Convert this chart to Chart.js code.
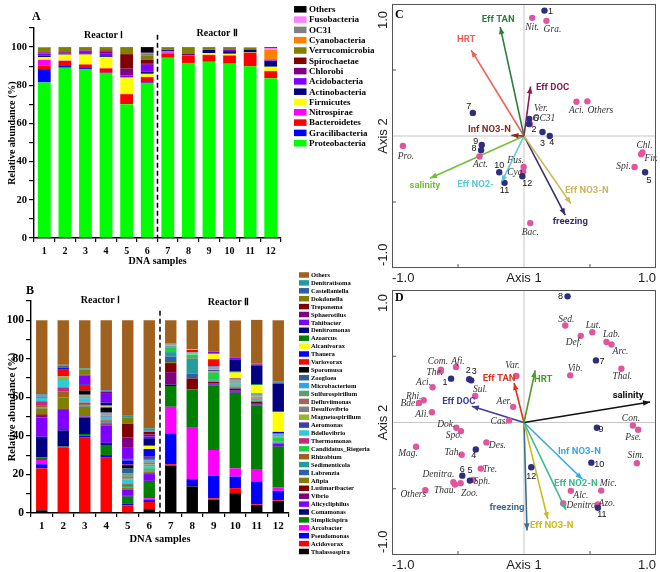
<!DOCTYPE html>
<html>
<head>
<meta charset="utf-8">
<script src="https://cdn.jsdelivr.net/npm/chart.js@4.4.0/dist/chart.umd.min.js"></script>
<style>
  html, body { margin: 0; padding: 0; background: #fff; }
  #wrap { position: relative; width: 660px; height: 572px; overflow: hidden; }
  canvas { position: absolute; }
</style>
</head>
<body>
<div id="wrap">
  <canvas id="chartA" width="392" height="272" style="left:0;top:0"></canvas>
  <canvas id="chartB" width="392" height="300" style="left:0;top:272px"></canvas>
  <canvas id="chartC" width="320" height="286" style="left:340px;top:0"></canvas>
  <canvas id="chartD" width="320" height="286" style="left:340px;top:286px"></canvas>
</div>
<script>
const serif = "'Liberation Serif','Times New Roman',serif";
const sans = "'Liberation Sans',Arial,sans-serif";
const narrow = "Roboto,'Liberation Sans',sans-serif";

// ---------- A: phylum level (bottom of stack first) ----------
const samples = ['1', '2', '3', '4', '5', '6', '7', '8', '9', '10', '11', '12'];
const phyla = ['Proteobacteria', 'Gracilibacteria', 'Bacteroidetes', 'Nitrospirae', 'Firmicutes',
  'Actinobacteria', 'Acidobacteria', 'Chlorobi', 'Spirochaetae', 'Verrucomicrobia',
  'Cyanobacteria', 'OC31', 'Fusobacteria', 'Others'];
const phylumColors = ['#00ff00', '#0000ff', '#ff0000', '#ff00ff', '#ffff00', '#000080', '#8000ff',
  '#800080', '#800000', '#808000', '#ff8000', '#808080', '#ff80ff', '#000000'];

const phylumS1 = [81.5, 7.0, 1.8, 3.0, 1.4, 0.8, 1.2, 0.5, 0.3, 2.3, 0, 0.1, 0, 0.1];
const phylumS2 = [89.2, 0.9, 2.6, 0.2, 3.1, 0.2, 0.6, 0.5, 0.1, 2.6, 0, 0, 0, 0];
const phylumS3 = [88.3, 0.7, 1.9, 0, 5.2, 0.4, 1.0, 0.6, 0.2, 1.7, 0, 0, 0, 0];
const phylumS4 = [86.4, 0.2, 2.2, 0.2, 5.7, 0.5, 1.3, 1.3, 0.5, 1.7, 0, 0, 0, 0];
const phylumS5 = [70.1, 0, 5.2, 0.2, 8.5, 0.2, 0.9, 3.6, 7.6, 3.7, 0, 0, 0, 0];
const phylumS6 = [81.2, 0.3, 2.8, 0, 1.7, 1.2, 3.5, 0.9, 1.7, 2.1, 0, 1.4, 0.2, 3.0];
const phylumS7 = [94.4, 0, 2.1, 0.8, 0.3, 0.8, 0.3, 0.2, 0, 0.9, 0, 0, 0, 0.2];
const phylumS8 = [91.7, 0, 4.0, 0, 0.1, 0, 0, 0.8, 0.2, 3.2, 0, 0, 0, 0];
const phylumS9 = [92.3, 0, 3.6, 0, 0.9, 1.7, 0.2, 0, 0, 1.3, 0, 0, 0, 0];
const phylumS10 = [91.3, 0, 4.3, 0, 0.9, 1.4, 0.9, 0, 0, 1.2, 0, 0, 0, 0];
const phylumS11 = [89.9, 0, 7.1, 0, 0.2, 1.4, 0.3, 0, 0, 0.8, 0.3, 0, 0, 0];
const phylumS12 = [83.7, 0, 3.7, 0, 2.3, 3.0, 0.3, 0.2, 0.2, 0.2, 5.0, 0, 1.0, 0.4];

// ---------- B: genus level (bottom of stack first) ----------
const genera = ['Thalassospira', 'Acidovorax', 'Pseudomonas', 'Arcobacter', 'Simplicispira',
  'Comamonas', 'Alicycliphilus', 'Vibrio', 'Lutimaribacter', 'Afipia', 'Labrenzia',
  'Sedimenticola', 'Rhizobium', 'Candidatus_Riegeria', 'Thermomonas', 'Bdellovibrio',
  'Aeromonas', 'Magnetospirillum', 'Desulfovibrio', 'Defluviimonas', 'Sulfurospirillum',
  'Microbacterium', 'Zoogloea', 'Sporomusa', 'Variovorax', 'Thauera', 'Alcanivorax',
  'Azoarcus', 'Denitromonas', 'Tahibacter', 'Sphaerotilus', 'Treponema', 'Dokdonella',
  'Castellaniella', 'Denitratisoma', 'Others'];
const genusColors = ['#000000', '#ff0000', '#0000ff', '#ff00ff', '#008000', '#000080', '#8000ff',
  '#800080', '#800000', '#808000', '#2e5fa8', '#249c9c', '#a0601e', '#20d040', '#c8287e',
  '#2ecbd8', '#4040a0', '#9ab52a', '#808080', '#a86060', '#5e9e6e', '#2ea7de', '#2e5f8f',
  '#000000', '#ff0000', '#0000ff', '#ffff00', '#008000', '#000080', '#8000ff', '#800080',
  '#800000', '#808000', '#2e5fa8', '#249c9c', '#a0601e'];

const genusS1 = [1.4, 21.8, 2.1, 2.2, 1.4, 10.7, 10.0, 0.8, 0.8, 3.0, 0.3, 0.3, 1.2, 0, 2.0, 1.8, 0.5, 0, 0.3, 0, 0, 0.3, 0.3, 0, 0, 0, 0, 0, 0, 0, 0, 0, 0, 0.2, 0.3, 38.3];
const genusS2 = [0, 34.1, 0.2, 0, 0.2, 8.4, 11.0, 0, 0, 6.0, 0.3, 0, 3.0, 0, 2.0, 4.0, 0.3, 1.2, 0.3, 0, 0, 0, 0, 0, 3.7, 0.5, 0, 0.3, 0.5, 0, 0, 0, 0.3, 0.3, 0.3, 23.1];
const genusS3 = [0, 39.1, 1.0, 0, 0.9, 8.6, 0.5, 0, 0, 5.0, 0.3, 0.3, 0.8, 0, 0.8, 2.2, 0.3, 0.5, 0.3, 0.2, 0.2, 0.2, 0.2, 2.2, 2.8, 0.2, 0, 0, 0.3, 4.5, 0.3, 0, 2.8, 0.3, 0.3, 24.9];
const genusS4 = [0.5, 28.2, 1.4, 0, 4.8, 1.5, 9.0, 0.5, 0.3, 0.5, 0.3, 0.3, 0.8, 0, 0.3, 1.5, 0.3, 0.3, 0.5, 0.3, 0.2, 0.3, 0.5, 2.3, 0.3, 0.2, 0.5, 0.2, 1.5, 4.5, 1.2, 0, 0.3, 0.3, 0.2, 36.2];
const genusS5 = [0, 4.0, 1.0, 0, 3.5, 0.5, 3.0, 0.2, 0.2, 0.8, 0.3, 0.5, 1.0, 0.2, 0.3, 2.0, 0.3, 0.3, 1.0, 0.3, 0.8, 0.3, 2.8, 1.5, 0.3, 2.2, 0, 0.5, 0.3, 5.7, 5.5, 7.0, 3.0, 0.3, 1.2, 49.2];
const genusS6 = [2.0, 3.7, 1.0, 1.0, 8.5, 0.5, 3.5, 0.3, 0.3, 0.8, 0.3, 0.3, 0.5, 0.5, 0.3, 0.8, 0.3, 0.5, 1.2, 0.3, 0.5, 0.5, 1.0, 0.3, 0.3, 4.0, 1.5, 0.3, 3.8, 1.0, 1.0, 1.3, 0.3, 0.3, 1.2, 56.1];
const genusS7 = [24.6, 0.7, 16.0, 13.8, 10.8, 0.7, 0, 6.5, 4.7, 0.5, 2.9, 2.3, 0.4, 1.8, 0.3, 0.3, 0.3, 0.3, 0.2, 0.2, 0.3, 0.2, 0.2, 0, 0, 0, 0, 0, 0, 0, 0, 0, 0, 0, 0, 12.0];
const genusS8 = [13.8, 0, 3.8, 26.6, 19.8, 0, 0, 0.3, 5.5, 0, 2.6, 7.7, 0.3, 1.7, 0, 0.2, 0, 0.5, 0.5, 0, 0, 0.2, 0, 0, 1.2, 0, 0.3, 0, 0, 0, 0, 0, 0, 0, 0, 15.0];
const genusS9 = [6.9, 0.7, 11.8, 13.3, 33.6, 0.3, 0.3, 0.3, 0.8, 0.3, 0.3, 0.3, 0.2, 3.8, 0.3, 0.5, 0.5, 0.3, 0.5, 0.3, 0.3, 0.3, 0.3, 0, 3.3, 0.3, 2.8, 0, 0.3, 0.8, 0, 0, 0, 0, 0, 16.3];
const genusS10 = [10.3, 2.6, 6.0, 4.3, 39.1, 0.3, 0.3, 0.8, 0.8, 0, 0.5, 0.5, 0.2, 0.5, 0.3, 0.8, 0.3, 0.3, 0.3, 0.2, 0.3, 0.5, 0.3, 0, 0.2, 0.2, 3.0, 0.5, 6.3, 1.0, 0, 0, 0, 0, 0, 19.2];
const genusS11 = [4.1, 0.4, 11.9, 6.0, 33.5, 0.3, 0.3, 0.5, 0.7, 0, 0.3, 0.3, 0, 0.8, 0.3, 0.5, 0.3, 0.3, 0.3, 0, 0.3, 0.3, 0.3, 0, 0.3, 0, 4.3, 0.5, 9.5, 0.6, 0.3, 0, 0, 0.3, 0, 22.7];
const genusS12 = [6.2, 0.4, 4.9, 1.9, 21.0, 0.3, 1.4, 0, 0, 0, 0.3, 0.3, 0.3, 2.2, 0.3, 0.3, 0.3, 0, 0.3, 0, 0.3, 0.3, 0.3, 0, 0, 0.8, 10.2, 0.3, 14.4, 0, 0, 0, 0, 0.8, 0.3, 31.9];

// ---------- C: ordination, phylum level ----------
const cArrowNames = ['Eff TAN', 'HRT', 'Eff DOC', 'Inf NO3-N', 'salinity', 'Eff NO2-', 'Eff NO3-N', 'freezing'];
const cArrowX = [-0.18, -0.40, 0.05, -0.095, -0.7125, -0.17, 0.355, 0.3125];
const cArrowY = [0.825, 0.65, 0.375, 0.005, -0.32, -0.35, -0.5125, -0.60];
const cSampleNames = ['1', '2', '3', '4', '5', '6', '7', '8', '9', '10', '11', '12'];
const cSampleX = [0.155, 0.0375, 0.14, 0.195, 0.9175, 0.04, -0.3875, -0.325, -0.32, -0.1875, -0.1475, -0.0125];
const cSampleY = [0.95, 0.09, 0.03, 0.0, -0.275, 0.13, 0.175, -0.1075, -0.0675, -0.275, -0.355, -0.305];
const cSpeciesNames = ['Nit.', 'Gra.', 'Aci.', 'Others', 'Ver.', 'OC31', 'Pro.', 'Act.', 'Fus.', 'Cya.', 'Bac.', 'Chl.', 'Fir.', 'Spi.'];
const cSpeciesX = [0.0625, 0.17, 0.3975, 0.48, 0.0375, 0.045, -0.9175, -0.3375, -0.0025, -0.0075, 0.0475, 0.8975, 0.8875, 0.8375];
const cSpeciesY = [0.895, 0.8725, 0.26, 0.2625, 0.105, 0.09, -0.075, -0.155, -0.235, -0.27, -0.66, -0.125, -0.1375, -0.235];

// ---------- D: ordination, genus level ----------
const dArrowNames = ['HRT', 'Eff TAN', 'Eff DOC', 'salinity', 'Inf NO3-N', 'Eff NO2-N', 'Eff NO3-N', 'freezing'];
const dArrowX = [0.085, -0.075, -0.395, 0.955, 0.4425, 0.3175, 0.18, 0.0225];
const dArrowY = [0.393, 0.298, 0.123, 0.155, -0.4286, -0.659, -0.729, -0.8145];
const dSampleNames = ['1', '2', '3', '4', '5', '6', '7', '8', '9', '10', '11', '12'];
const dSampleX = [-0.5525, -0.415, -0.40, -0.365, -0.41, -0.4675, 0.545, 0.33, 0.5525, 0.51, 0.56, 0.055];
const dSampleY = [0.331, 0.326, 0.318, -0.203, -0.4386, -0.401, 0.4687, 0.952, -0.040, -0.303, -0.644, -0.338];
const dSpeciesNames = ['Sed.', 'Lut.', 'Def.', 'Lab.', 'Arc.', 'Thal.', 'Vib.', 'Com.', 'The.', 'Afi.', 'Var.',
  'Aci.', 'Sul.', 'Rhi.', 'Bde.', 'Ali.', 'Aer.', 'Cas.', 'Dok.', 'Spo.', 'Des.', 'Mag.', 'Tah.', 'Tre.',
  'Sph.', 'Denitra.', 'Thau.', 'Zoo.', 'Others', 'Con.', 'Pse.', 'Sim.', 'Mic.', 'Alc.', 'Denitro.', 'Azo.'];
const dSpeciesX = [0.3125, 0.5175, 0.43, 0.625, 0.6625, 0.7375, 0.35, -0.63, -0.63, -0.515, -0.0575,
  -0.6925, -0.37, -0.76, -0.795, -0.6975, -0.0825, -0.1125, -0.5125, -0.4775, -0.285, -0.8175, -0.4725, -0.3275,
  -0.385, -0.535, -0.5225, -0.48, -0.7475, 0.825, 0.865, 0.855, 0.585, 0.355, 0.2975, 0.56];
const dSpeciesY = [0.732, 0.682, 0.654, 0.607, 0.589, 0.406, 0.356, 0.398, 0.388, 0.4185, 0.351,
  0.266, 0.2005, 0.168, 0.148, 0.078, 0.118, 0.015, -0.04, -0.065, -0.15, -0.183, -0.243, -0.348,
  -0.4336, -0.451, -0.4687, -0.4586, -0.511, -0.0226, -0.0551, -0.308, -0.514, -0.516, -0.6115, -0.619];

// styles and label placement (pixel offsets from the mark)
const cArrowColors = ['#2e7d3e', '#f06058', '#8c1d50', '#8b2b1f', '#76be3a', '#5cc8d2', '#cbb85a', '#3a2c6c'];
const dArrowColors = ['#4e9a2e', '#e0321f', '#3b3f99', '#111111', '#3aa8e0', '#3dba8c', '#c9bd1f', '#3d6e8c'];
const cArrowOff = [[-2, -7], [-5, -11], [22, 1], [-22, -6], [-5, 7], [-26, 2], [16, -13], [5, 6]];
const dArrowOff = [[8, 9], [-15, -4], [-13, -5], [-22, -6], [-3, -28], [10, -26], [4, 7], [-20, -23]];
const cSampleOff = [[6, 1], [5, 5], [0, 11], [2, 7], [4, 8], [7, 0], [-4, -6], [-7, -2], [-6, -3], [0, -7], [0, 8], [5, 7]];
const dSampleOff = [[-6, 4], [-1, -9], [3, -9], [-2, 6], [0, -10], [0, -6], [6, 1], [-7, 0], [4, 2], [8, 2], [4, 7], [0, 9]];
const cSpeciesOff = [[0, 10], [6, 9], [0, 9], [13, 9], [12, -14], [14, -6], [3, 11], [1, 8], [-8, -7], [-7, 1], [0, 9], [2, -7], [10, 4], [-11, -1]];
const dSpeciesOff = [[1, -6], [1, -7], [-7, 7], [5, -8], [9, 7], [1, 8], [5, -7], [-3, -8], [-6, 1], [2, -6], [-4, -10],
  [-9, -5], [5, -6], [-10, -4], [-10, 1], [-10, 2], [-9, -5], [-10, 1], [-10, -3], [-7, 4], [11, 3], [-8, 7], [-9, -2], [9, 1],
  [9, 2], [-15, -8], [-10, 6], [9, 10], [-12, 4], [-2, -7], [-5, 8], [-1, -8], [7, -7], [10, 5], [19, 2], [9, -1]];

// ---------- bar chart decorations ----------
const barDecor = {
  id: 'barDecor',
  afterDatasetsDraw(chart, args, o) {
    const { ctx, scales: { x, y } } = chart;
    ctx.save();
    // dashed line between the two reactors
    const xs = x.getPixelForValue(5.5);
    ctx.strokeStyle = '#000';
    ctx.lineWidth = 1.5;
    ctx.setLineDash([5, 3]);
    ctx.beginPath();
    ctx.moveTo(xs, y.getPixelForValue(o.dashTop));
    ctx.lineTo(xs, y.getPixelForValue(0));
    ctx.stroke();
    ctx.setLineDash([]);

    ctx.fillStyle = '#000';
    ctx.textBaseline = 'middle';
    ctx.textAlign = 'center';
    ctx.font = `bold 10px ${serif}`;
    ctx.fillText('Reactor \u2160', x.getPixelForValue(2.5) + o.r1[0], o.r1[1]);
    ctx.fillText('Reactor \u2161', x.getPixelForValue(8.5) + o.r2[0], o.r2[1]);
    ctx.textAlign = 'left';
    ctx.font = `bold 12px ${serif}`;
    ctx.fillText(o.letter, o.letterAt[0], o.letterAt[1]);

    // legend, top of stack first
    const ds = chart.data.datasets;
    const lg = o.legend;
    ctx.font = `bold ${lg.size}px ${serif}`;
    for (let k = 0; k < ds.length; k++) {
      const d = ds[ds.length - 1 - k];
      const cy = lg.y + k * lg.row;
      ctx.fillStyle = d.backgroundColor;
      ctx.fillRect(lg.x, cy - lg.boxH / 2, lg.boxW, lg.boxH);
      ctx.fillStyle = '#000';
      ctx.fillText(d.label, lg.textX, cy + 0.5);
    }
    ctx.restore();
  }
};

function barChart(id, taxa, colors, bySample, o) {
  return new Chart(document.getElementById(id), {
    type: 'bar',
    data: {
      labels: samples,
      datasets: taxa.map((name, i) => ({
        label: name,
        data: bySample.map(s => s[i]),
        backgroundColor: colors[i],
        borderWidth: 0,
        barPercentage: o.barPct,
        categoryPercentage: 1
      }))
    },
    options: {
      responsive: false,
      animation: false,
      events: [],
      layout: { padding: o.pad },
      plugins: { legend: { display: false }, tooltip: { enabled: false }, barDecor: o.decor },
      scales: {
        x: {
          stacked: true,
          afterFit: s => { s.height = o.xH; },
          border: { color: '#000', width: 1.4 },
          grid: { drawOnChartArea: false, color: '#000', tickLength: 4, lineWidth: 1.2 },
          ticks: { color: '#000', padding: 3, maxRotation: 0, autoSkip: false,
            font: { family: serif, weight: 'bold', size: o.xTick } },
          title: { display: true, text: 'DNA samples', color: '#000',
            font: { family: serif, weight: 'bold', size: o.titleSize }, padding: { top: 0, bottom: o.xTitlePad } }
        },
        y: {
          stacked: true,
          min: 0,
          max: 110,
          afterFit: s => { s.width = o.yW; },
          border: { color: '#000', width: 1.4 },
          grid: { drawOnChartArea: false, color: '#000', tickLength: 5, lineWidth: 1.2 },
          ticks: { stepSize: 10, color: '#000', padding: 2,
            font: { family: serif, weight: 'bold', size: o.yTick },
            callback: v => (v % 20 === 0 && v <= 100) ? v : '' },
          title: { display: true, text: 'Relative abundance (%)', color: '#000',
            font: { family: serif, weight: 'bold', size: o.titleSize }, padding: { top: o.yTitlePad, bottom: 0 } }
        }
      }
    },
    plugins: [barDecor]
  });
}

barChart('chartA', phyla, phylumColors,
  [phylumS1, phylumS2, phylumS3, phylumS4, phylumS5, phylumS6, phylumS7, phylumS8, phylumS9, phylumS10, phylumS11, phylumS12], {
  barPct: 0.62, pad: { left: 0, top: 28, right: 111, bottom: 0 }, xH: 34, yW: 34,
  xTick: 10, yTick: 10.5, titleSize: 10, xTitlePad: 5, yTitlePad: 6,
  decor: { dashTop: 106.5, r1: [8, 35], r2: [-2, 33], letter: 'A', letterAt: [32, 17],
    legend: { x: 294, textX: 309, y: 9.3, row: 10.3, boxW: 12.5, boxH: 6.5, size: 9 } }
});

barChart('chartB', genera, genusColors,
  [genusS1, genusS2, genusS3, genusS4, genusS5, genusS6, genusS7, genusS8, genusS9, genusS10, genusS11, genusS12], {
  barPct: 0.53, pad: { left: 0, top: 29, right: 103, bottom: 0 }, xH: 59, yW: 31,
  xTick: 11, yTick: 11.5, titleSize: 10.5, xTitlePad: 26, yTitlePad: 6,
  decor: { dashTop: 105, r1: [5, 28], r2: [4, 30], letter: 'B', letterAt: [26, 19],
    legend: { x: 299, textX: 311, y: 3, row: 7.9, boxW: 10, boxH: 5.5, size: 6.5 } }
});

// ---------- ordination decorations ----------
const ordDecor = {
  id: 'ordDecor',
  beforeDatasetsDraw(chart) {
    const { ctx, chartArea: a, scales: { x, y } } = chart;
    const x0 = x.getPixelForValue(0), y0 = y.getPixelForValue(0);
    ctx.save();
    ctx.strokeStyle = '#b8b8b8';
    ctx.lineWidth = 0.8;
    ctx.beginPath();
    ctx.moveTo(x0, a.top); ctx.lineTo(x0, a.bottom);
    ctx.moveTo(a.left, y0); ctx.lineTo(a.right, y0);
    ctx.stroke();
    ctx.restore();
  },
  afterDatasetsDraw(chart, args, o) {
    const { ctx } = chart;
    ctx.save();
    ctx.textBaseline = 'middle';
    ctx.textAlign = 'center';
    chart.data.datasets.forEach((d, i) => {
      const pts = chart.getDatasetMeta(i).data;
      if (d.arrow) {
        const p0 = pts[0], p1 = pts[1];
        const ang = Math.atan2(p1.y - p0.y, p1.x - p0.x);
        const L = 7, W = 2.8;
        const bx = p1.x - L * Math.cos(ang), by = p1.y - L * Math.sin(ang);
        ctx.fillStyle = d.borderColor;
        ctx.beginPath();
        ctx.moveTo(p1.x, p1.y);
        ctx.lineTo(bx - W * Math.sin(ang), by + W * Math.cos(ang));
        ctx.lineTo(bx + W * Math.sin(ang), by - W * Math.cos(ang));
        ctx.closePath();
        ctx.fill();
        ctx.font = `bold 9.5px ${narrow}`;
        ctx.fillText(d.label, p1.x + d.off[0], p1.y + d.off[1]);
      } else {
        ctx.fillStyle = d.textColor;
        ctx.font = d.textFont;
        pts.forEach((p, k) => ctx.fillText(d.names[k], p.x + d.offs[k][0], p.y + d.offs[k][1]));
      }
    });
    ctx.restore();
  },
  afterDraw(chart, args, o) {
    const { ctx, chartArea: a, scales: { x, y } } = chart;
    ctx.save();
    ctx.strokeStyle = '#555';
    ctx.lineWidth = 1;
    ctx.strokeRect(a.left + 0.5, a.top + 0.5, a.right - a.left - 1, a.bottom - a.top - 1);
    ctx.beginPath();
    [-0.5, 0.5].forEach(v => {
      const py = y.getPixelForValue(v), px = x.getPixelForValue(v);
      ctx.moveTo(a.left, py); ctx.lineTo(a.left + 4, py);
      ctx.moveTo(px, a.bottom); ctx.lineTo(px, a.bottom - 4);
    });
    ctx.stroke();

    // vertical axis labels, rotated
    ctx.fillStyle = '#222';
    ctx.font = `13px ${sans}`;
    ctx.textBaseline = 'middle';
    const lx = a.left - 9;
    const rot = (txt, py, align) => {
      ctx.save();
      ctx.translate(lx, py);
      ctx.rotate(-Math.PI / 2);
      ctx.textAlign = align;
      ctx.fillText(txt, 0, 0);
      ctx.restore();
    };
    rot('1.0', a.top + o.topLabel, 'right');
    rot('Axis 2', y.getPixelForValue(0), 'center');
    rot('-1.0', a.bottom - 2, 'left');

    ctx.fillStyle = '#000';
    ctx.font = `bold 12px ${serif}`;
    ctx.textAlign = 'left';
    ctx.fillText(o.letter, a.left + 3, a.top + o.letterY);
    ctx.restore();
  }
};

function ordChart(id, c) {
  const datasets = [
    { label: 'samples', names: c.sampleNames, offs: c.sampleOff,
      data: c.sampleX.map((v, i) => ({ x: v, y: c.sampleY[i] })),
      backgroundColor: '#2e2f7c', pointRadius: 3.2, borderWidth: 0,
      textColor: '#111', textFont: `9px ${sans}` },
    { label: 'species', names: c.speciesNames, offs: c.speciesOff,
      data: c.speciesX.map((v, i) => ({ x: v, y: c.speciesY[i] })),
      backgroundColor: '#e0559c', pointRadius: 3.2, borderWidth: 0,
      textColor: '#333', textFont: `italic 9.5px ${serif}` }
  ];
  c.arrowNames.forEach((n, i) => datasets.push({
    type: 'line', label: n, arrow: true, off: c.arrowOff[i],
    data: [{ x: 0, y: 0 }, { x: c.arrowX[i], y: c.arrowY[i] }],
    borderColor: c.arrowColors[i], borderWidth: 1.6, pointRadius: 0, fill: false, tension: 0
  }));
  return new Chart(document.getElementById(id), {
    type: 'scatter',
    data: { datasets },
    options: {
      responsive: false,
      animation: false,
      events: [],
      layout: { padding: c.pad },
      plugins: { legend: { display: false }, tooltip: { enabled: false }, ordDecor: c.decor },
      scales: {
        x: {
          min: -1, max: 1,
          afterFit: s => { s.height = c.xH; },
          grid: { display: false, drawTicks: false },
          border: { display: false },
          ticks: { stepSize: 1, align: 'inner', padding: 3, color: '#222', maxRotation: 0,
            font: { family: sans, size: 13 },
            callback: v => v === 0 ? 'Axis 1' : v.toFixed(1) }
        },
        y: { min: -1, max: 1, display: false }
      }
    },
    plugins: [ordDecor]
  });
}

ordChart('chartC', {
  arrowNames: cArrowNames, arrowX: cArrowX, arrowY: cArrowY, arrowColors: cArrowColors, arrowOff: cArrowOff,
  sampleNames: cSampleNames, sampleX: cSampleX, sampleY: cSampleY, sampleOff: cSampleOff,
  speciesNames: cSpeciesNames, speciesX: cSpeciesX, speciesY: cSpeciesY, speciesOff: cSpeciesOff,
  pad: { left: 52, top: 1, right: 2, bottom: 0 }, xH: 18,
  decor: { letter: 'C', letterY: 11, topLabel: 7 }
});

ordChart('chartD', {
  arrowNames: dArrowNames, arrowX: dArrowX, arrowY: dArrowY, arrowColors: dArrowColors, arrowOff: dArrowOff,
  sampleNames: dSampleNames, sampleX: dSampleX, sampleY: dSampleY, sampleOff: dSampleOff,
  speciesNames: dSpeciesNames, speciesX: dSpeciesX, speciesY: dSpeciesY, speciesOff: dSpeciesOff,
  pad: { left: 52, top: 3, right: 2, bottom: 0 }, xH: 17,
  decor: { letter: 'D', letterY: 8, topLabel: 4 }
});
</script>
</body>
</html>
